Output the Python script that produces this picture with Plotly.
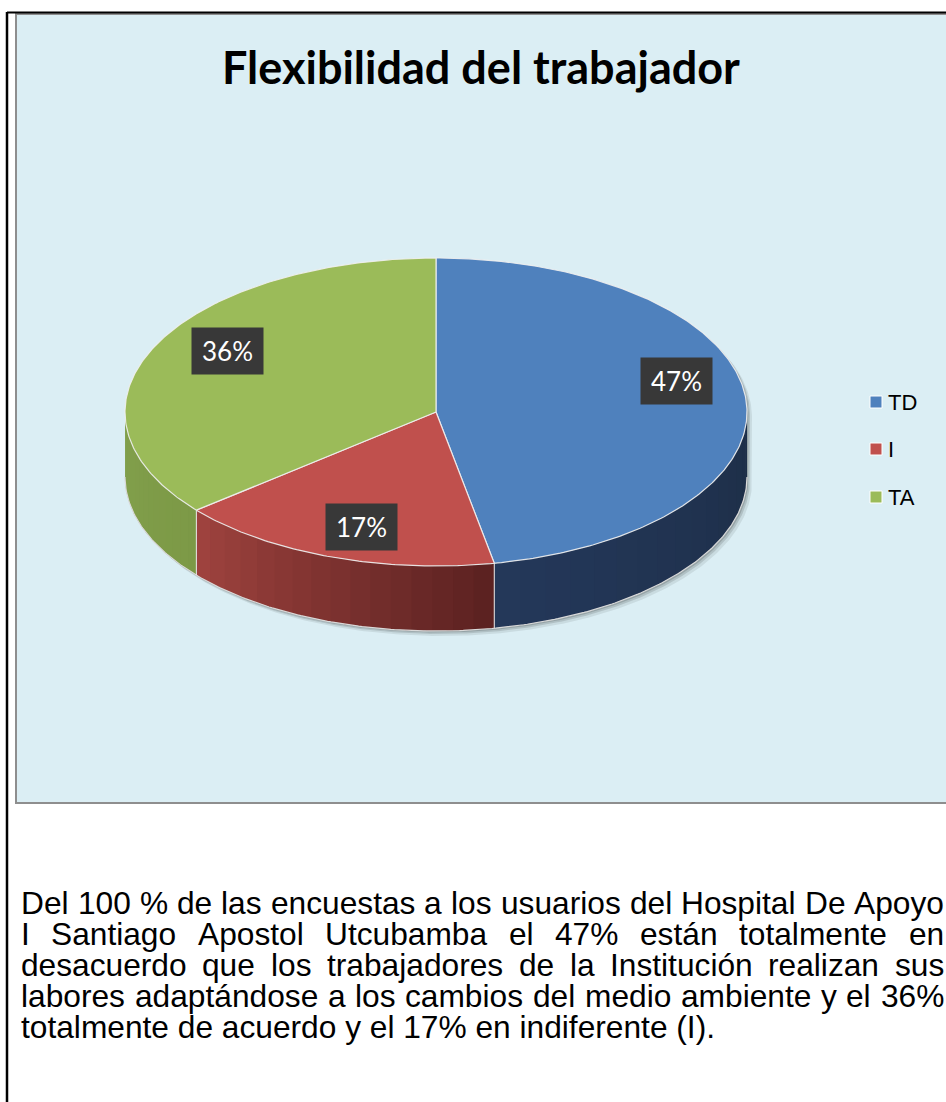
import numpy as np
import plotly.graph_objects as go

# ---------------- data ----------------
labels = ["TD", "I", "TA"]
values = [47, 17, 36]
pct_text = ["47%", "17%", "36%"]
top_colors = ["#4F81BD", "#C0504D", "#9BBB59"]
side_left_colors = ["#24385A", "#A0433F", "#82A04C"]
side_right_colors = ["#1D2E47", "#5A2120", "#7C9946"]
title_text = "Flexibilidad del trabajador"
paragraph_lines = [
    "Del 100 % de las encuestas a los usuarios del Hospital De Apoyo",
    "I Santiago Apostol Utcubamba el 47% están totalmente en",
    "desacuerdo que los trabajadores de la Institución realizan sus",
    "labores adaptándose a los cambios del medio ambiente y el 36%",
    "totalmente de acuerdo y el 17% en indiferente (I).",
]
justified = [True, True, True, True, False]

# ---------------- geometry / style ----------------
W, H = 946, 1102
CX, CY, RX, RY, DEPTH = 436, 412, 311, 154, 65
LABEL_R = 0.75
label_nudge = [(8, -20), (5, 6), (3, -12)]
TXT_SIZE = 31.7
TXT_X0, TXT_X1 = 20, 943
line_centers = [903, 934, 965, 996, 1027]


def pt(theta_deg, dy=0.0):
    t = np.radians(theta_deg)
    return CX + RX * np.sin(t), CY - RY * np.cos(t) + dy


def arc(a, b, dy=0.0, n=None):
    if n is None:
        n = max(int(abs(b - a) * 1.5), 4)
    th = np.linspace(a, b, n)
    xs, ys = pt(th, dy)
    return list(xs), list(ys)


def mix(c1, c2, f):
    a = [int(c1[i:i + 2], 16) for i in (1, 3, 5)]
    b = [int(c2[i:i + 2], 16) for i in (1, 3, 5)]
    c = [round(a[k] + (b[k] - a[k]) * f) for k in range(3)]
    return "#%02x%02x%02x" % tuple(c)


fig = go.Figure()

total = float(sum(values))
bounds = []
acc = 0.0
for v in values:
    a = acc / total * 360.0
    acc += v
    b = acc / total * 360.0
    bounds.append((a, b))

# shadow under the pie
for off, alpha in [(5, 0.08), (3, 0.12), (1.5, 0.15)]:
    x1, y1 = arc(-90, 90)
    x2, y2 = arc(90, 270, DEPTH)
    xs = [x + off for x in x1 + x2]
    ys = [y + off for y in y1 + y2]
    fig.add_trace(go.Scatter(x=xs, y=ys, fill="toself", mode="lines",
                             line=dict(width=0), fillcolor="rgba(0,0,0,%.2f)" % alpha,
                             hoverinfo="skip", showlegend=False))

# side walls (front, visible half 90..270 deg), drawn as overlapping strips for a gradient
NSTRIP = 16
for i, (a, b) in enumerate(bounds):
    lo, hi = max(a, 90.0), min(b, 270.0)
    if lo >= hi:
        continue
    edges = np.linspace(lo, hi, NSTRIP + 1)
    for k in range(NSTRIP):
        t0 = edges[k]
        t1 = min(edges[k + 1] + 1.2, hi) if k < NSTRIP - 1 else hi
        f = (0.5 * (edges[k] + edges[k + 1]) - lo) / (hi - lo)
        col = mix(side_right_colors[i], side_left_colors[i], f)
        xa, ya = arc(t0, t1, 0, 8)
        xb, yb = arc(t1, t0, DEPTH, 8)
        fig.add_trace(go.Scatter(x=xa + xb, y=ya + yb, fill="toself", mode="lines",
                                 line=dict(width=0), fillcolor=col,
                                 hoverinfo="skip", showlegend=False))

# bottom rim highlight
xr, yr = arc(90, 270, DEPTH)
fig.add_trace(go.Scatter(x=xr, y=yr, mode="lines", line=dict(color="#D9D9D9", width=1.2),
                         hoverinfo="skip", showlegend=False))
# vertical edges at visible slice boundaries
for (a, b) in bounds:
    if 90 < b < 270:
        x0, y0 = pt(b)
        fig.add_trace(go.Scatter(x=[x0, x0], y=[y0, y0 + DEPTH], mode="lines",
                                 line=dict(color="#E8E8E8", width=1),
                                 hoverinfo="skip", showlegend=False))

# top surfaces
for i, (a, b) in enumerate(bounds):
    xa, ya = arc(a, b)
    xs = [CX] + xa + [CX]
    ys = [CY] + ya + [CY]
    fig.add_trace(go.Scatter(x=xs, y=ys, fill="toself", mode="lines",
                             line=dict(width=1.2, color="rgba(240,240,240,0.9)"),
                             fillcolor=top_colors[i], name=labels[i],
                             hoverinfo="skip", showlegend=False))

# percentage labels
for i, (a, b) in enumerate(bounds):
    m = 0.5 * (a + b)
    t = np.radians(m)
    lx = CX + LABEL_R * RX * np.sin(t) + label_nudge[i][0]
    ly = CY - LABEL_R * RY * np.cos(t) + label_nudge[i][1]
    fig.add_annotation(x=lx, y=ly, xref="x", yref="y", text=pct_text[i], showarrow=False,
                       font=dict(family="Lato", size=26, color="white"),
                       bgcolor="#383838", width=71, height=46, borderpad=0,
                       xanchor="center", yanchor="middle")

# ---------------- text paragraph (Arial metrics for justification) ----------------
AW = {' ': 278, 'D': 722, 'H': 722, 'A': 667, 'I': 278, 'S': 667, 'U': 722,
      'a': 556, 'b': 556, 'c': 500, 'd': 556, 'e': 556, 'f': 278, 'g': 556, 'h': 556,
      'i': 222, 'j': 222, 'l': 222, 'm': 833, 'n': 556, 'o': 556, 'p': 556, 'q': 556,
      'r': 333, 's': 500, 't': 278, 'u': 556, 'v': 500, 'x': 500, 'y': 500, 'z': 500,
      'á': 556, 'ó': 556, '%': 889, '(': 333, ')': 333, '.': 278}


def tw(s):
    return sum(AW.get(ch, 556) for ch in s) / 1000.0 * TXT_SIZE


txt_font = dict(family="Liberation Sans", size=TXT_SIZE, color="black")
for li, line in enumerate(paragraph_lines):
    yc = line_centers[li]
    if justified[li]:
        words = line.split(" ")
        widths = [tw(w) for w in words]
        gap = (TXT_X1 - TXT_X0 - sum(widths)) / (len(words) - 1)
        x = TXT_X0
        for w, wd in zip(words, widths):
            fig.add_annotation(x=x, y=yc, xref="x", yref="y", text=w, showarrow=False,
                               font=txt_font, xanchor="left", yanchor="middle", borderpad=0)
            x += wd + gap
    else:
        fig.add_annotation(x=TXT_X0, y=yc, xref="x", yref="y", text=line, showarrow=False,
                           font=txt_font, xanchor="left", yanchor="middle", borderpad=0)

# title
fig.add_annotation(x=481, y=67, xref="x", yref="y", text=title_text, showarrow=False,
                   font=dict(family="Lato", size=45, color="black", weight=700),
                   xanchor="center", yanchor="middle")

# legend (manual)
leg_y = [402, 449, 497]
for i, lab in enumerate(labels):
    fig.add_shape(type="rect", xref="x", yref="y", x0=870, x1=882, y0=leg_y[i] - 6, y1=leg_y[i] + 6,
                  fillcolor=top_colors[i], line=dict(color="white", width=1), layer="above")
    fig.add_annotation(x=887, y=leg_y[i], xref="x", yref="y", text=lab, showarrow=False,
                       font=dict(family="Liberation Sans", size=22, color="black"),
                       xanchor="left", yanchor="middle", borderpad=0)

# page borders and chart area
shapes = [
    dict(type="rect", xref="x", yref="y", x0=16, x1=960, y0=14, y1=803,
         fillcolor="#DBEEF4", line=dict(color="#8E8E8E", width=2), layer="below"),
    dict(type="line", xref="x", yref="y", x0=7, x1=960, y0=12.5, y1=12.5,
         line=dict(color="black", width=2), layer="below"),
    dict(type="line", xref="x", yref="y", x0=7, x1=7, y0=12, y1=1110,
         line=dict(color="black", width=2.5), layer="below"),
]
for s in shapes:
    fig.add_shape(**s)

fig.update_layout(
    width=W, height=H, margin=dict(l=0, r=0, t=0, b=0),
    paper_bgcolor="white", plot_bgcolor="white",
    xaxis=dict(range=[0, W], visible=False, fixedrange=True),
    yaxis=dict(range=[H, 0], visible=False, fixedrange=True),
    showlegend=False,
)

fig.write_html("out.html", config={"displayModeBar": False},
               post_script="document.body.style.margin='0';document.body.style.overflow='hidden';")
